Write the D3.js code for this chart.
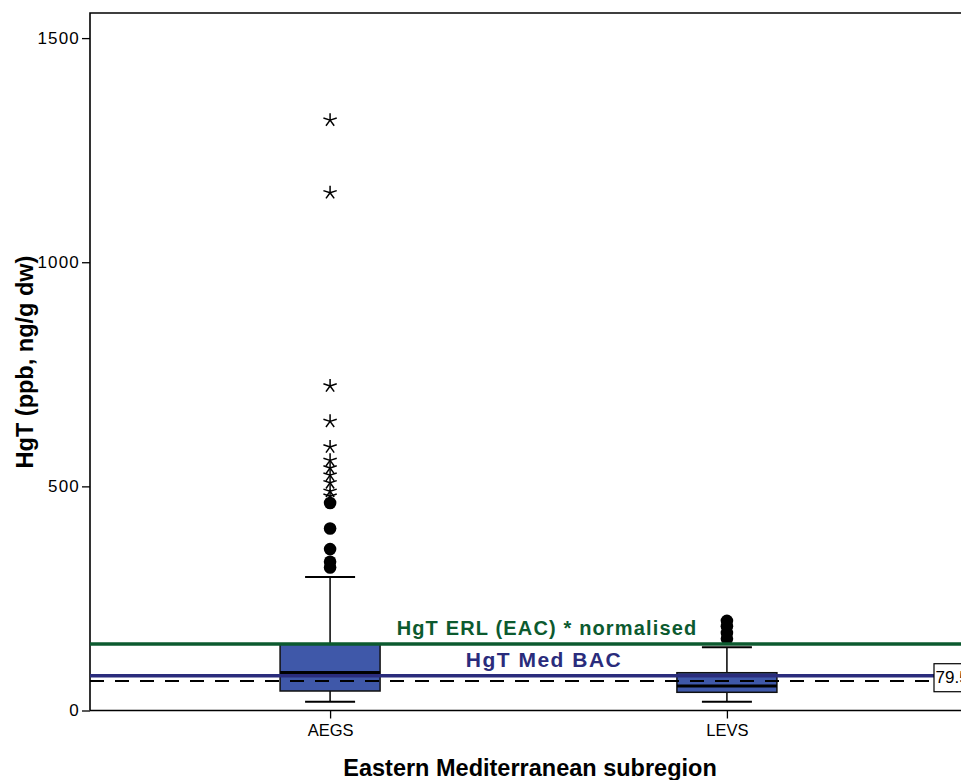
<!DOCTYPE html>
<html>
<head>
<meta charset="utf-8">
<script src="https://cdn.jsdelivr.net/npm/d3@7"></script>
<style>
html,body{margin:0;padding:0;background:#fff;}
svg{display:block;font-family:"Liberation Sans",Arial,sans-serif;}
</style>
</head>
<body>
<svg id="chart" width="961" height="780"></svg>
<script>
// ---- data ----
const categories = ["AEGS", "LEVS"];
const q1Values = [43.5, 40.6];
const medianValues = [84.8, 54.6];
const q3Values = [148.3, 84.3];
const whiskerLow = [19.6, 19.6];
const whiskerHigh = [297.8, 141];
const outlierCircles = [[463, 406, 360, 332, 319], [200, 188, 173, 160]];
const outlierStars = [[1317, 1155, 724, 645, 588, 558, 541, 525, 508, 489, 478], []];
const yTicks = [0, 500, 1000, 1500];
const erlValue = 148.3;
const bacValue = 77.6;
const dashedValue = 65.8;
const boxLabel = "79.5";

// ---- layout ----
const svg = d3.select("#chart");
const mLeft = 90, mRight = 967, mTop = 13, mBottom = 710.5;
const y = d3.scaleLinear().domain([0, 1556]).range([mBottom, mTop]);
const x = d3.scalePoint().domain(categories).range([mLeft, mRight]).padding(0.605);
const boxW = 100, capW = 50;

// frame
svg.append("path")
  .attr("d", `M${mLeft},${mBottom}V${mTop}H${mRight}`)
  .attr("fill", "none").attr("stroke", "#000").attr("stroke-width", 1.6);

// y axis
const yAxis = d3.axisLeft(y).tickValues(yTicks).tickSize(8).tickPadding(2).tickFormat(d3.format("d"));
const gy = svg.append("g").attr("transform", `translate(${mLeft},0)`).call(yAxis);
gy.select(".domain").remove();
gy.selectAll("line").attr("stroke", "#000").attr("stroke-width", 1.3);
gy.selectAll("text").attr("font-size", 17).attr("letter-spacing", 1.2).attr("fill", "#000")
  .attr("font-family", "Liberation Sans, Arial, sans-serif");

// x axis
const xAxis = d3.axisBottom(x).tickSize(8).tickPadding(6);
const gx = svg.append("g").attr("transform", `translate(0,${mBottom})`).call(xAxis);
gx.select(".domain").attr("d", `M${mLeft},0H${mRight}`).attr("stroke", "#000").attr("stroke-width", 1.6);
gx.selectAll("line").attr("stroke", "#000").attr("stroke-width", 1.3);
gx.selectAll("text").attr("font-size", 16.5).attr("fill", "#000")
  .attr("font-family", "Liberation Sans, Arial, sans-serif");

// boxes
categories.forEach((c, i) => {
  const cx = x(c);
  const g = svg.append("g");
  g.append("line").attr("x1", cx).attr("x2", cx).attr("y1", y(q3Values[i])).attr("y2", y(whiskerHigh[i]))
    .attr("stroke", "#000").attr("stroke-width", 1.5);
  g.append("line").attr("x1", cx).attr("x2", cx).attr("y1", y(q1Values[i])).attr("y2", y(whiskerLow[i]))
    .attr("stroke", "#000").attr("stroke-width", 1.5);
  [whiskerHigh[i], whiskerLow[i]].forEach(v => {
    g.append("line").attr("x1", cx - capW / 2).attr("x2", cx + capW / 2).attr("y1", y(v)).attr("y2", y(v))
      .attr("stroke", "#000").attr("stroke-width", 2);
  });
  g.append("rect").attr("x", cx - boxW / 2).attr("width", boxW)
    .attr("y", y(q3Values[i])).attr("height", y(q1Values[i]) - y(q3Values[i]))
    .attr("fill", "#3f58a9").attr("stroke", "#111").attr("stroke-width", 1.5);
  g.append("line").attr("x1", cx - boxW / 2).attr("x2", cx + boxW / 2).attr("y1", y(medianValues[i])).attr("y2", y(medianValues[i]))
    .attr("stroke", "#000").attr("stroke-width", 3);
  g.selectAll("circle.o").data(outlierCircles[i]).enter().append("circle")
    .attr("cx", cx).attr("cy", d => y(d)).attr("r", 6.3).attr("fill", "#000");
});

// star outliers (5-spoke asterisks)
const starPath = (r) => {
  let p = "";
  for (let k = 0; k < 5; k++) {
    const a = -Math.PI / 2 + k * 2 * Math.PI / 5;
    p += `M0,0L${(r * Math.cos(a)).toFixed(2)},${(r * Math.sin(a)).toFixed(2)}`;
  }
  return p;
};
categories.forEach((c, i) => {
  svg.selectAll(null).data(outlierStars[i]).enter().append("path")
    .attr("transform", d => `translate(${x(c)},${y(d)})`)
    .attr("d", starPath(7)).attr("fill", "none").attr("stroke", "#000").attr("stroke-width", 1.5);
});

// reference lines
svg.append("line").attr("x1", mLeft).attr("x2", mRight).attr("y1", y(dashedValue)).attr("y2", y(dashedValue))
  .attr("stroke", "#000").attr("stroke-width", 2).attr("stroke-dasharray", "14,11");
svg.append("line").attr("x1", mLeft).attr("x2", 934).attr("y1", y(bacValue)).attr("y2", y(bacValue))
  .attr("stroke", "#2a2c7c").attr("stroke-width", 3.5);
svg.append("line").attr("x1", mLeft).attr("x2", mRight).attr("y1", y(erlValue)).attr("y2", y(erlValue))
  .attr("stroke", "#0c5a2f").attr("stroke-width", 3.5);

// reference labels
svg.append("text").attr("x", 547).attr("y", y(erlValue) - 9).attr("text-anchor", "middle")
  .attr("font-size", 20).attr("font-weight", "bold").attr("fill", "#0c5a2f").attr("letter-spacing", 1.15)
  .text("HgT ERL (EAC) * normalised");
svg.append("text").attr("x", 544).attr("y", y(bacValue) - 9).attr("text-anchor", "middle")
  .attr("font-size", 21).attr("font-weight", "bold").attr("fill", "#2a2c7c").attr("letter-spacing", 1.5)
  .text("HgT Med BAC");

// value box label
svg.append("rect").attr("x", 934).attr("y", y(bacValue) - 12).attr("width", 40).attr("height", 28)
  .attr("fill", "#fff").attr("stroke", "#000").attr("stroke-width", 1.2);
svg.append("text").attr("x", 935.5).attr("y", y(bacValue) + 7).attr("font-size", 17).attr("fill", "#000")
  .text(boxLabel);

// axis titles
svg.append("text").attr("transform", `translate(33,362) rotate(-90)`).attr("text-anchor", "middle")
  .attr("font-size", 23.5).attr("font-weight", "bold").attr("fill", "#000")
  .text("HgT (ppb, ng/g dw)");
svg.append("text").attr("x", 530).attr("y", 776).attr("text-anchor", "middle")
  .attr("font-size", 23.5).attr("font-weight", "bold").attr("fill", "#000")
  .text("Eastern Mediterranean subregion");
</script>
</body>
</html>
